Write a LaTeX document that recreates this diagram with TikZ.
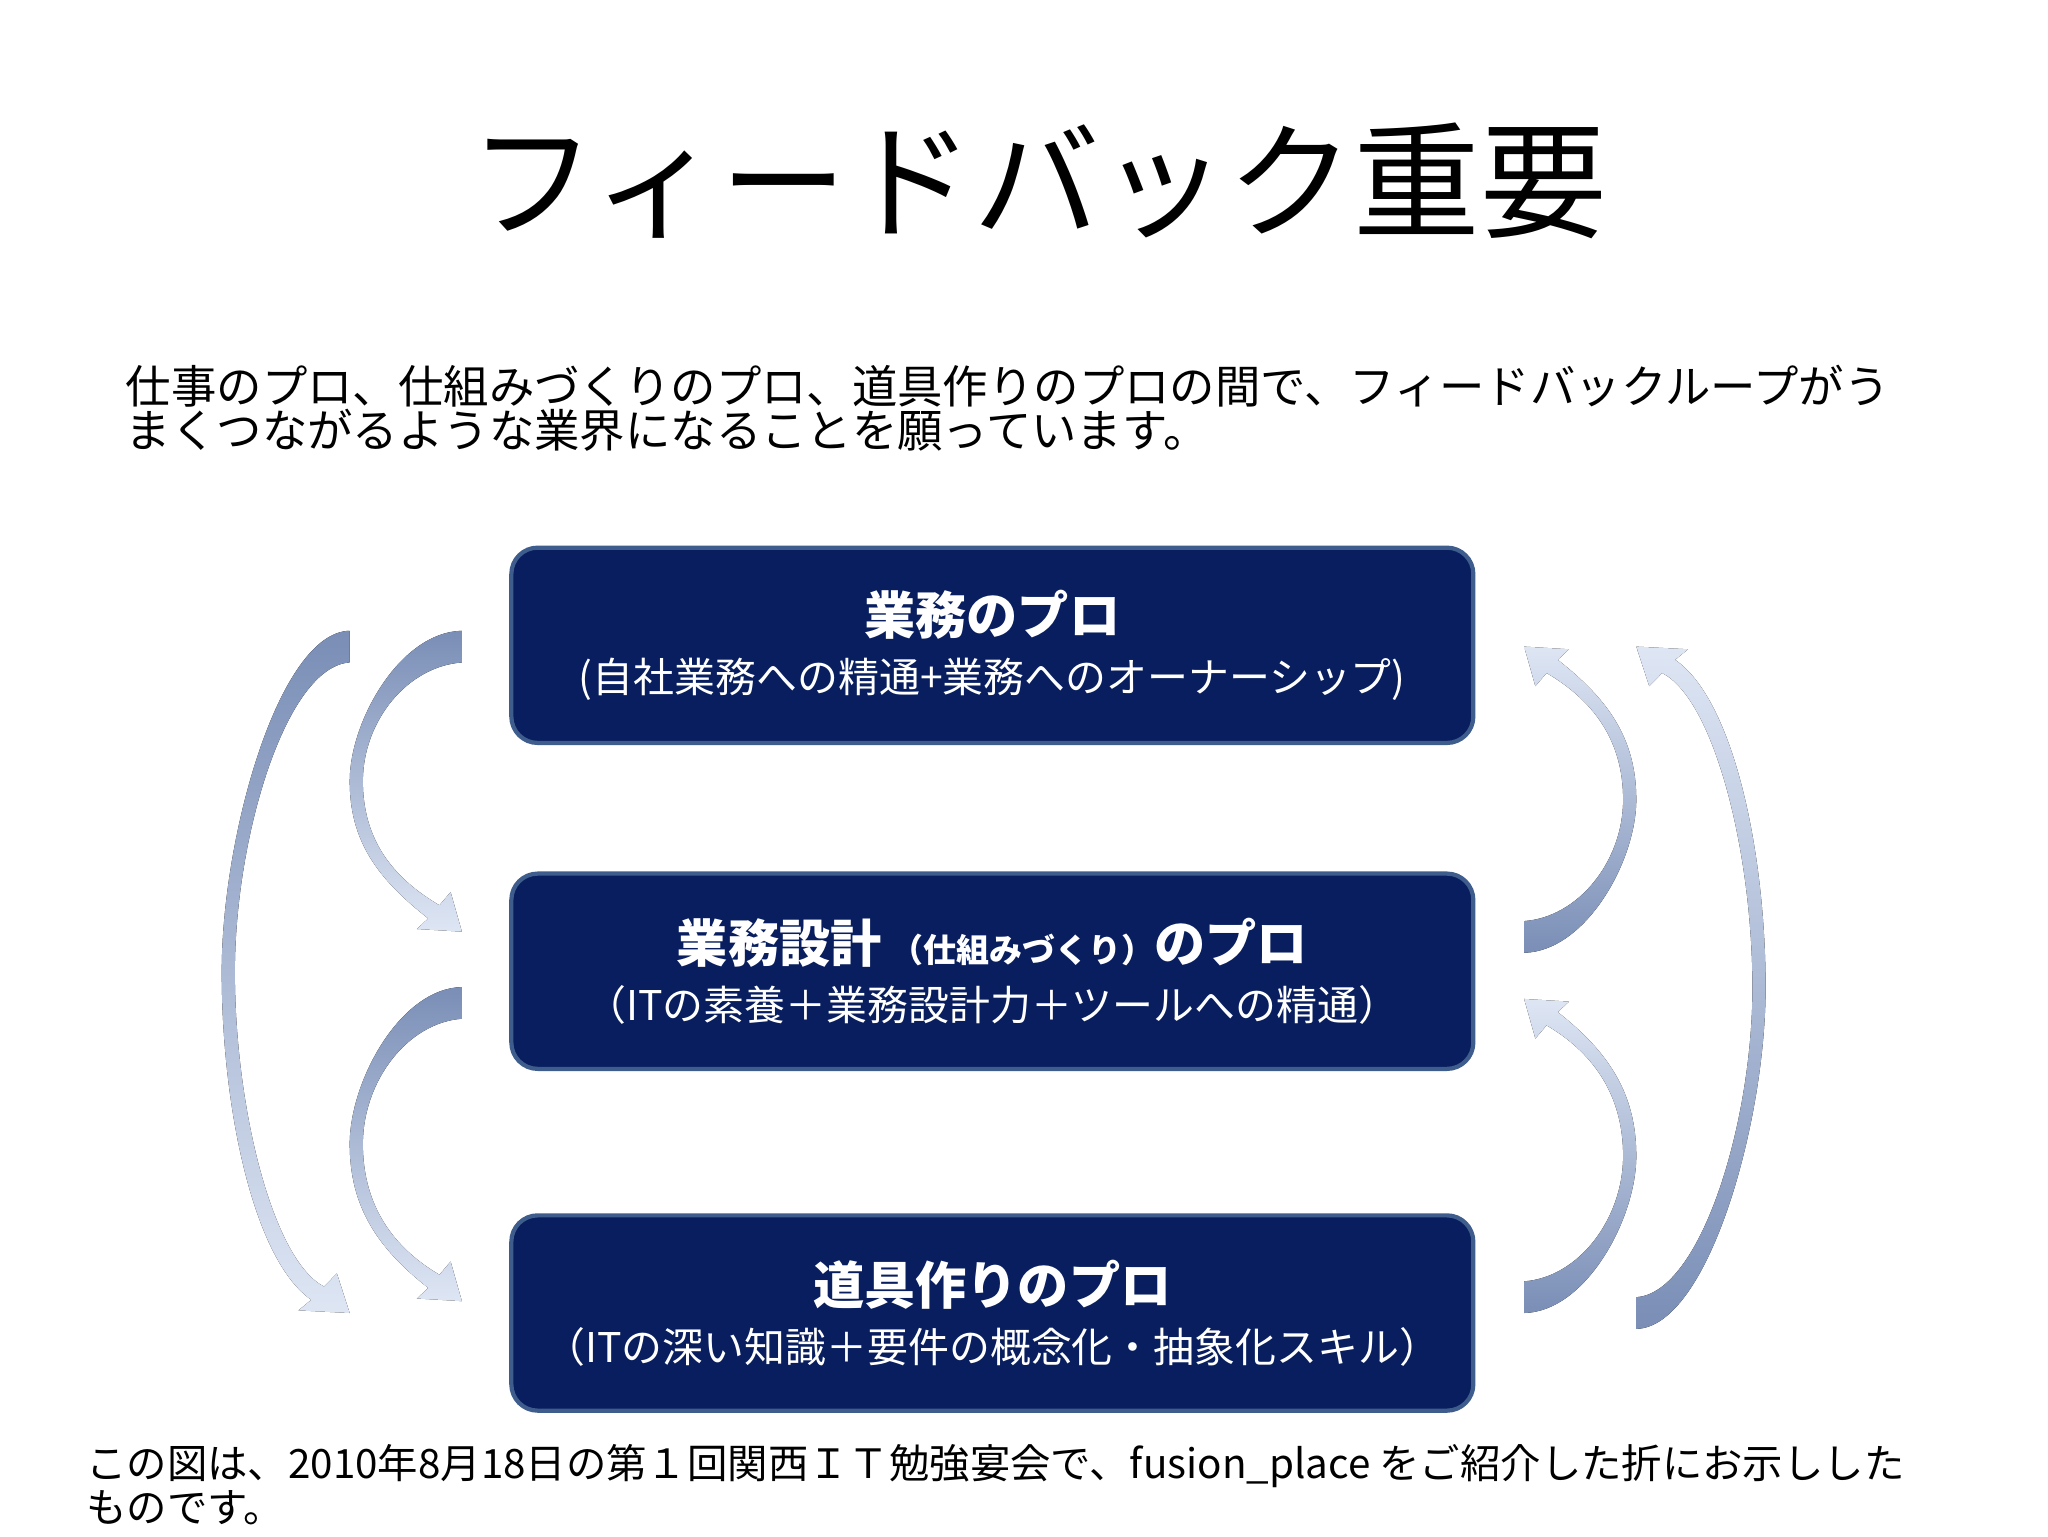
\documentclass[tikz,border=0pt]{standalone}
\usepackage{fontspec}
\setmainfont{Noto Sans CJK JP}
\begin{document}
\begin{tikzpicture}[x=0.5pt,y=-0.5pt,
  box/.style={draw=boxline,line width=1.6pt,fill=navy,rounded corners=10pt,minimum width=364.5pt,minimum height=74pt,text=white,align=center,inner sep=0pt},
  arr/.style={top color=arrdark,bottom color=arrlight,draw=none},
  arrr/.style={top color=arrlight,bottom color=arrdark,draw=none}]
\definecolor{navy}{RGB}{8,30,94}
\definecolor{boxline}{RGB}{62,92,140}
\definecolor{arrdark}{RGB}{122,142,182}
\definecolor{arrlight}{RGB}{222,230,244}
\newcommand\carrow[3]{%
 \fill[#3] (0,0) -- (0,24) .. controls ({-0.55*(#2-10)},27) and ({-(#2-10)},{0.3*#1}) .. ({-(#2-10)},{0.5*#1})
 .. controls ({-(#2-10)},{0.7*#1}) and ({-0.6*#2},{#1-40}) .. ({-0.2*#2},{#1-20})
 -- ({-0.1*#2},{#1-30}) -- (0,#1) -- ({-0.4*#2},{#1-2}) -- ({-0.3*#2},{#1-10})
 .. controls ({-0.75*#2},{#1-40}) and (-#2,{0.7*#1}) .. (-#2,{0.5*#1})
 .. controls (-#2,{0.3*#1}) and ({-0.55*#2},1) .. (0,0) -- cycle;}
\useasboundingbox (0,0) rectangle (1552,1164);
\node (title) at (787,137) {\fontsize{48}{54}\selectfont フィードバック重要};
\node[anchor=north west,align=left,inner sep=0pt] (body) at (95,276) {\fontsize{17.2}{22.5}\selectfont 仕事のプロ、仕組みづくりのプロ、道具作りのプロの間で、フィードバックループがう\\ \fontsize{17.2}{22.5}\selectfont まくつながるような業界になることを願っています。};
\node[box] (b1) at (752,489) {\fontsize{19.4}{24}\selectfont\bfseries 業務のプロ\\[6pt] \fontsize{15.5}{17}\selectfont (自社業務への精通+業務へのオーナーシップ)};
\node[box] (b2) at (752,736) {\fontsize{19.4}{24}\selectfont\bfseries 業務設計\,{\fontsize{12.5}{14}\selectfont（仕組みづくり）}のプロ\\[6pt] \fontsize{15.5}{17}\selectfont（ITの素養＋業務設計力＋ツールへの精通）};
\node[box] (b3) at (752,995) {\fontsize{19.4}{24}\selectfont\bfseries 道具作りのプロ\\[6pt] \fontsize{15.5}{17}\selectfont（ITの深い知識＋要件の概念化・抽象化スキル）};
\node[anchor=north west,align=left,inner sep=0pt] (foot) at (65,1094) {\fontsize{15.3}{17.5}\selectfont この図は、2010年8月18日の第１回関西ＩＴ勉強宴会で、fusion\_place をご紹介した折にお示しした\\ \fontsize{15.3}{17.5}\selectfont ものです。};
\begin{scope}[shift={(265,478)}]\carrow{517}{97}{arr}\end{scope}
\begin{scope}[shift={(350,478)}]\carrow{228}{85}{arr}\end{scope}
\begin{scope}[shift={(350,748)}]\carrow{238}{85}{arr}\end{scope}
\begin{scope}[shift={(1155,722)},rotate=180]\carrow{232}{85}{arrr}\end{scope}
\begin{scope}[shift={(1155,995)},rotate=180]\carrow{238}{85}{arrr}\end{scope}
\begin{scope}[shift={(1240,1007)},rotate=180]\carrow{517}{98}{arrr}\end{scope}
\end{tikzpicture}
\end{document}
